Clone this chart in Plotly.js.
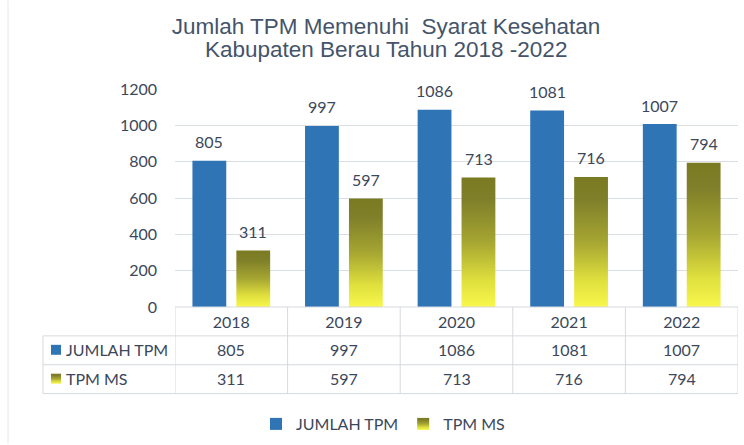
<!DOCTYPE html>
<html>
<head>
<meta charset="utf-8">
<script src="https://cdn.plot.ly/plotly-3.0.1.min.js"></script>
<style>html,body{margin:0;padding:0;background:#fff;}#chart{width:744px;height:445px;}</style>
</head>
<body>
<div id="chart"></div>
<script>
const years = ['2018', '2019', '2020', '2021', '2022'];
const jumlahTPM = [805, 997, 1086, 1081, 1007];
const tpmMS = [311, 597, 713, 716, 794];
const seriesNames = ['JUMLAH TPM', 'TPM MS'];
const yTicks = [0, 200, 400, 600, 800, 1000, 1200];
const titleLines = ['Jumlah TPM Memenuhi  Syarat Kesehatan', 'Kabupaten Berau Tahun 2018 -2022'];

const textColor = '#3b475a';
const font = 'Lato, "Open Sans", sans-serif';
const fs = 16;
const titleFont = '"Liberation Sans", Arial, sans-serif';
const blue = '#2f74b5';
const gridColor = '#d9dde4';

// plot area in pixels: x 175..738, y 89..308
const L = 175, R = 738, T = 89, B = 308;
const pw = R - L, ph = B - T;
const px = x => (x - L) / pw;
const py = y => (B - y) / ph;

const traces = [
  {type: 'bar', name: seriesNames[0], x: years, y: jumlahTPM,
   marker: {color: blue}, hoverinfo: 'skip'},
  {type: 'bar', name: seriesNames[1], x: years, y: tpmMS,
   marker: {color: '#c8c83a'}, hoverinfo: 'skip'}
];

const annotations = [];
annotations.push({x: px(386), y: py(49), xref: 'paper', yref: 'paper', text: titleLines[1],
  showarrow: false, xanchor: 'center', yanchor: 'middle',
  font: {family: titleFont, size: 22.5, color: '#44546a'}});

const series = [jumlahTPM, tpmMS];
series.forEach((vals, s) => {
  years.forEach((yr, i) => {
    annotations.push({x: i, y: vals[i], xref: 'x', yref: 'y', text: String(vals[i]),
      showarrow: false, xshift: s === 0 ? -22 : 22, yshift: 19, yanchor: 'middle',
      font: {family: font, size: fs, color: textColor}});
    annotations.push({x: i, y: py(s === 0 ? 351 : 380), xref: 'x', yref: 'paper',
      text: String(vals[i]), showarrow: false, yanchor: 'middle',
      font: {family: font, size: fs, color: textColor}});
  });
  annotations.push({x: px(64), y: py(s === 0 ? 351 : 380), xref: 'paper', yref: 'paper',
    text: seriesNames[s], showarrow: false, xanchor: 'left', yanchor: 'middle',
    font: {family: font, size: fs, color: textColor}});
});

const lineStyle = {color: '#d6d9de', width: 1};
const shapes = [];
shapes.push({type: 'line', xref: 'paper', yref: 'paper', x0: 0, x1: 1, y0: py(308), y1: py(308), line: lineStyle});
[337, 366, 395].forEach(yy => shapes.push({type: 'line', xref: 'paper', yref: 'paper',
  x0: px(43), x1: 1, y0: py(yy), y1: py(yy), line: lineStyle}));
for (let i = 0; i <= years.length; i++) {
  shapes.push({type: 'line', xref: 'x', yref: 'paper', x0: i - 0.5, x1: i - 0.5,
    y0: py(308), y1: py(395), line: lineStyle});
}
shapes.push({type: 'line', xref: 'paper', yref: 'paper', x0: px(43), x1: px(43),
  y0: py(337), y1: py(395), line: lineStyle});
shapes.push({type: 'line', xref: 'paper', yref: 'paper', x0: px(8), x1: px(8),
  y0: py(0), y1: py(445), line: {color: '#e4e5ee', width: 1}});
const keyIdxStart = shapes.length;
shapes.push({type: 'rect', xref: 'paper', yref: 'paper', x0: px(51), x1: px(61),
  y0: py(346), y1: py(356), line: {width: 0}, fillcolor: blue});
shapes.push({type: 'rect', xref: 'paper', yref: 'paper', x0: px(51), x1: px(61),
  y0: py(375), y1: py(385), line: {width: 0}, fillcolor: '#c8c83a'});

const layout = {
  width: 744, height: 445,
  margin: {l: L, r: 744 - R, t: T, b: 445 - B, pad: 0},
  paper_bgcolor: '#ffffff', plot_bgcolor: '#ffffff',
  title: {text: titleLines[0],
    x: 386 / 744, xanchor: 'center', xref: 'container', y: 1 - 26 / 445, yanchor: 'middle',
    yref: 'container',
    font: {family: titleFont, size: 22.5, color: '#44546a'}},
  barmode: 'group', bargap: 0.22, bargroupgap: 0.23,
  showlegend: true,
  legend: {orientation: 'h', x: px(383), xanchor: 'center', y: py(424), yanchor: 'middle',
    font: {family: font, size: fs, color: textColor}, itemwidth: 30, itemclick: false,
    tracegroupgap: 0, traceorder: 'normal'},
  xaxis: {type: 'category', range: [-0.5, 4.5], showgrid: false, zeroline: false,
    showline: false, ticks: '', tickfont: {family: font, size: fs, color: textColor},
    ticklabelstandoff: 4, fixedrange: true},
  yaxis: {range: [0, 1200], tickvals: yTicks, ticktext: yTicks.map(String),
    showgrid: true, gridcolor: gridColor, gridwidth: 1, zeroline: false, showline: false,
    ticks: '', tickfont: {family: font, size: fs, color: textColor}, ticklabelstandoff: 17,
    fixedrange: true},
  annotations: annotations,
  shapes: shapes
};

Plotly.newPlot('chart', traces, layout, {staticPlot: true, displayModeBar: false}).then(gd => {
  const svg = gd.querySelector('svg.main-svg');
  const ns = 'http://www.w3.org/2000/svg';
  let defs = svg.querySelector('defs');
  if (!defs) { defs = document.createElementNS(ns, 'defs'); svg.insertBefore(defs, svg.firstChild); }
  const grad = document.createElementNS(ns, 'linearGradient');
  grad.setAttribute('id', 'ygrad');
  grad.setAttribute('x1', '0'); grad.setAttribute('y1', '0');
  grad.setAttribute('x2', '0'); grad.setAttribute('y2', '1');
  [['0', '#7a7a22'], ['0.18', '#80802a'], ['0.5', '#a6a632'], ['0.8', '#e0e03e'], ['1', '#f7f74c']].forEach(([o, c]) => {
    const st = document.createElementNS(ns, 'stop');
    st.setAttribute('offset', o); st.setAttribute('stop-color', c);
    grad.appendChild(st);
  });
  defs.appendChild(grad);
  const applyGrad = el => { if (el) { el.style.fill = 'url(#ygrad)'; el.setAttribute('fill', 'url(#ygrad)'); } };
  const barTraces = gd.querySelectorAll('.barlayer .trace');
  if (barTraces[1]) barTraces[1].querySelectorAll('path').forEach(applyGrad);
  const legTraces = gd.querySelectorAll('.legend .traces');
  if (legTraces[1]) legTraces[1].querySelectorAll('.legendpoints path').forEach(applyGrad);
  gd.querySelectorAll('path[data-index="' + (keyIdxStart + 1) + '"]').forEach(applyGrad);
  gd.querySelectorAll('svg.main-svg').forEach(s => {
    if (s !== svg) {
      let d = s.querySelector('defs');
      if (!d) { d = document.createElementNS(ns, 'defs'); s.insertBefore(d, s.firstChild); }
      d.appendChild(grad.cloneNode(true));
    }
  });
});
</script>
</body>
</html>
